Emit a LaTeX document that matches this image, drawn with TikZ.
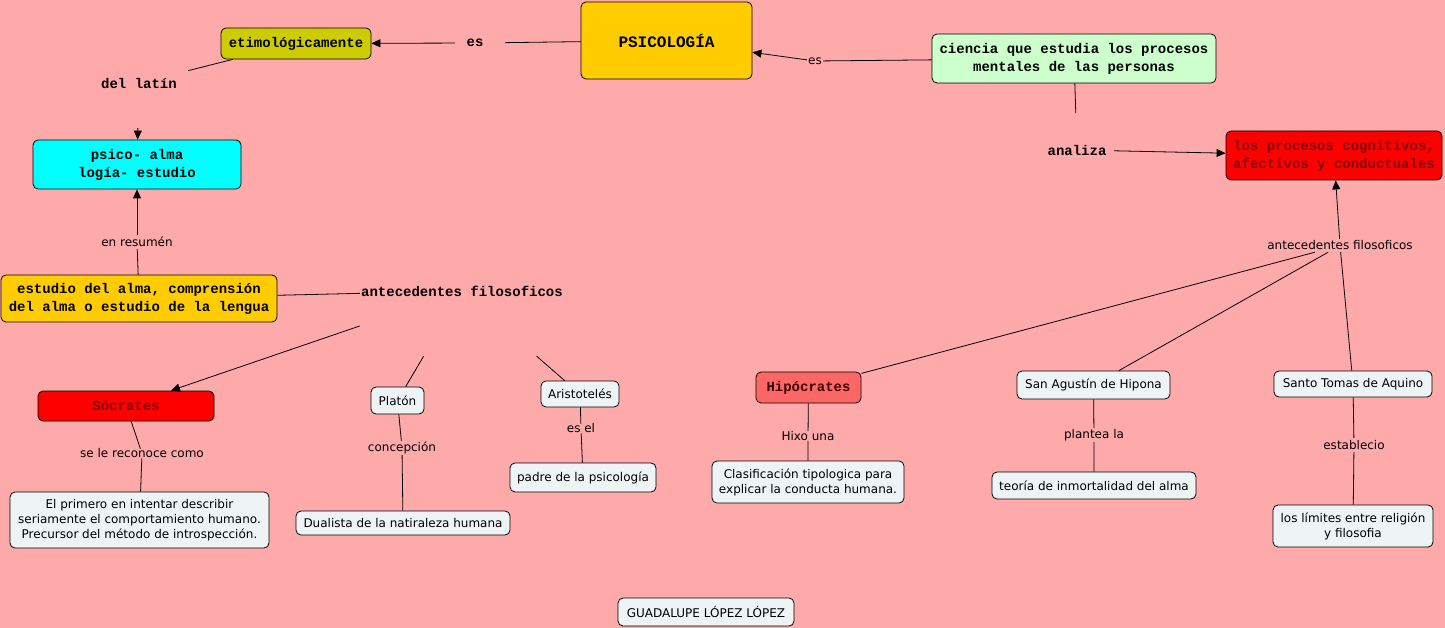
\documentclass[tikz,border=0pt]{standalone}
\usepackage{fontspec}
\setmainfont{DejaVu Sans}
\newfontfamily\monof{Liberation Mono}
\usetikzlibrary{arrows.meta}
\definecolor{bg}{HTML}{FFAAAA}
\definecolor{olivey}{HTML}{CCCC00}
\definecolor{gold}{HTML}{FFCC00}
\definecolor{mint}{HTML}{CCFFCC}
\definecolor{cyanb}{HTML}{00FFFF}
\definecolor{redb}{HTML}{FF0000}
\definecolor{salmon}{HTML}{FF6666}
\definecolor{light}{HTML}{EEF3F5}
\definecolor{darkred}{HTML}{800000}
\definecolor{darkbrown}{HTML}{3A0000}
\tikzset{
  box/.style={draw=black, line width=0.8pt, rounded corners=5pt, inner sep=0pt, align=center,
    font=\fontsize{12}{15}\selectfont},
  lbox/.style={box, fill=light},
  mbox/.style={box, font=\monof\bfseries\fontsize{14}{18}\selectfont},
  lbl/.style={inner sep=0pt, align=center, font=\fontsize{12}{15}\selectfont},
  mlbl/.style={inner sep=0pt, align=center, font=\monof\bfseries\fontsize{14}{18}\selectfont},
  conn/.style={line width=0.8pt},
  arr/.style={conn, -{Triangle[length=9pt,width=8pt]}}
}
\begin{document}
\begin{tikzpicture}[x=1pt,y=-1pt]
\fill[bg] (0,0) rectangle (1445,628);
\useasboundingbox (0,0) rectangle (1445,628);

% main boxes
\node[mbox, fill=olivey, minimum width=150pt, minimum height=31pt] (etimo) at (296,43.5) {etimológicamente};
\node[mbox, fill=gold, minimum width=171pt, minimum height=77pt, font=\monof\bfseries\fontsize{16}{18}\selectfont] (psic) at (666.5,40.5) {PSICOLOGÍA};
\node[mbox, fill=mint, minimum width=284pt, minimum height=49pt] (ciencia) at (1074,58.5) {ciencia que estudia los procesos\\mentales de las personas};
\node[mbox, fill=redb, text=darkred, minimum width=216pt, minimum height=49pt] (procesos) at (1334,155.5) {los procesos cognitivos,\\afectivos y conductuales};
\node[mbox, fill=cyanb, minimum width=208pt, minimum height=49pt] (psico) at (137,164.5) {psico- alma\\logía- estudio};
\node[mbox, fill=gold, minimum width=276pt, minimum height=47pt] (estudio) at (139,298.5) {estudio del alma, comprensión\\del alma o estudio de la lengua};
\node[mbox, fill=redb, text=darkred, minimum width=176pt, minimum height=30pt] (socrates) at (126,406) {Sócrates};
\node[lbox, minimum width=259pt, minimum height=56pt] (primero) at (139.5,520) {El primero en intentar describir\\seriamente el comportamiento humano.\\Precursor del método de introspección.};
\node[lbox, minimum width=53pt, minimum height=27pt] (platon) at (397.5,400.5) {Platón};
\node[lbox, minimum width=214pt, minimum height=24pt] (dualista) at (403,523) {Dualista de la natiraleza humana};
\node[lbox, minimum width=78pt, minimum height=26pt] (aristo) at (580,394) {Aristotelés};
\node[lbox, minimum width=146pt, minimum height=29pt] (padre) at (583,477.5) {padre de la psicología};
\node[mbox, fill=salmon, text=darkbrown, minimum width=105pt, minimum height=31pt] (hipo) at (808.5,387.5) {Hipócrates};
\node[lbox, minimum width=192pt, minimum height=42pt] (clasif) at (808,482) {Clasificación tipologica para\\explicar la conducta humana.};
\node[lbox, minimum width=153pt, minimum height=28pt] (agustin) at (1093.5,385) {San Agustín de Hipona};
\node[lbox, minimum width=204pt, minimum height=27pt] (teoria) at (1094,485.5) {teoría de inmortalidad del alma};
\node[lbox, minimum width=158pt, minimum height=26pt] (tomas) at (1353,384) {Santo Tomas de Aquino};
\node[lbox, minimum width=160pt, minimum height=42pt] (limites) at (1353,526) {los límites entre religión\\y filosofia};
\node[lbox, minimum width=176pt, minimum height=28pt] (guada) at (706,612) {GUADALUPE LÓPEZ LÓPEZ};

% labels
\node[mlbl, minimum width=50pt, minimum height=20pt] (es1) at (480,43) {\hspace*{-10pt}es};
\node[mlbl, minimum width=98pt, minimum height=90pt] (latin) at (139,83) {del latín};
\node[lbl, minimum height=14pt] (resumen) at (137,242) {en resumén};
\node[mlbl, minimum width=204pt, minimum height=130pt] (antec1) at (462,291) {antecedentes filosoficos};
\node[lbl, minimum width=16pt, minimum height=14pt] (es2) at (815,61) {es};
\node[mlbl, minimum width=74pt, minimum height=74pt] (analiza) at (1077,150) {analiza};
\node[lbl, minimum width=144pt, minimum height=13pt] (antec2) at (1340,245.5) {antecedentes filosoficos};
\node[lbl] (reconoce) at (142,453.5) {se le reconoce como};
\node[lbl, minimum height=14pt] (concep) at (402,448) {concepción};
\node[lbl] (esel) at (581,428.5) {es el};
\node[lbl] (hixo) at (808,436) {Hixo una};
\node[lbl, minimum height=14pt] (plantea) at (1094,435) {plantea la};
\node[lbl, minimum height=14pt] (establ) at (1354,445) {establecio};

% connectors
\draw[conn] (psic) -- (es1);
\draw[arr] (es1) -- (etimo);
\draw[conn] (ciencia) -- (es2);
\draw[arr] (es2) -- (psic);
\draw[conn] (ciencia) -- (analiza);
\draw[arr] (analiza) -- (procesos);
\draw[conn] (etimo) -- (latin);
\draw[arr] (latin) -- (psico);
\draw[conn] (estudio) -- (resumen);
\draw[arr] (resumen) -- (psico);
\draw[conn] (estudio) -- (antec1);
\draw[arr] (antec1) -- (socrates);
\draw[conn] (antec1) -- (platon);
\draw[conn] (antec1) -- (aristo);
\draw[conn] (socrates) -- (reconoce) -- (primero);
\draw[conn] (platon) -- (concep) -- (dualista);
\draw[conn] (aristo) -- (esel) -- (padre);
\draw[arr] (antec2) -- (procesos);
\draw[conn] (antec2) -- (hipo);
\draw[conn] (antec2) -- (agustin);
\draw[conn] (antec2) -- (tomas);
\draw[conn] (hipo) -- (hixo) -- (clasif);
\draw[conn] (agustin) -- (plantea) -- (teoria);
\draw[conn] (tomas) -- (establ) -- (limites);
\end{tikzpicture}
\end{document}
